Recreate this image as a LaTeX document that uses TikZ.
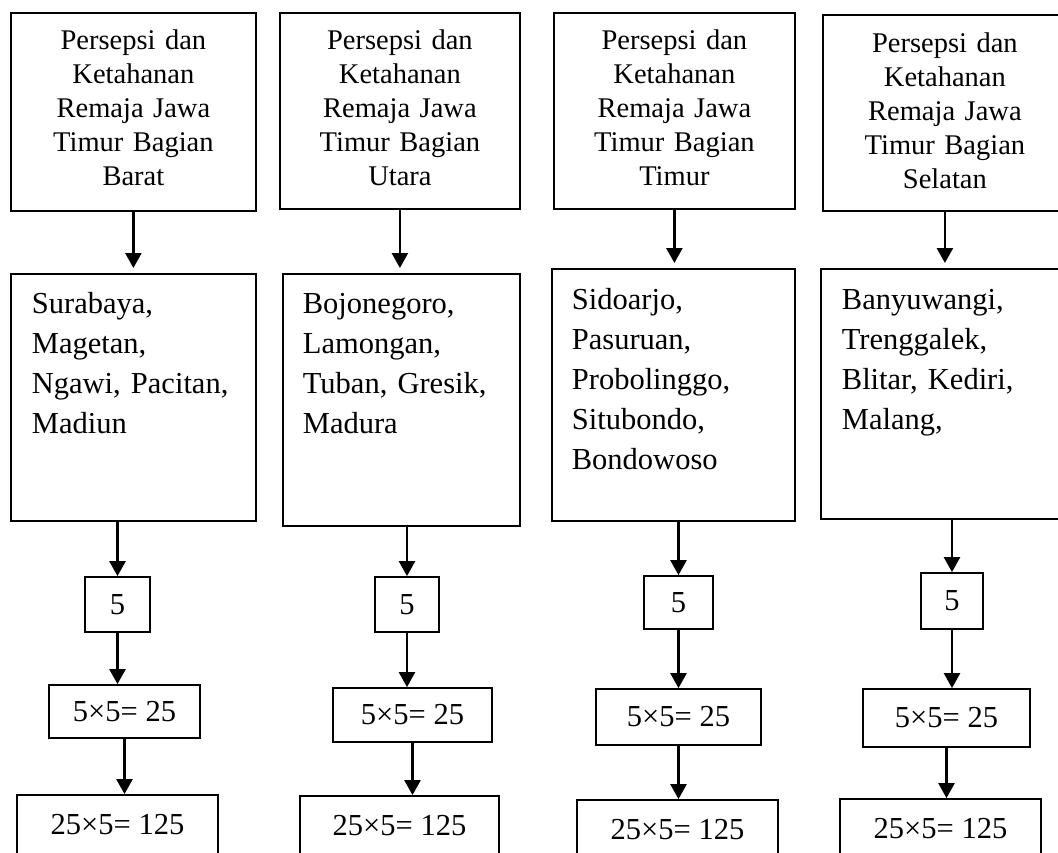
\documentclass[tikz,border=0pt]{standalone}
\usepackage{fontspec}
\setmainfont{Liberation Serif}
\usetikzlibrary{arrows.meta}

\begin{document}
\begin{tikzpicture}[x=1pt,y=-1pt,>={Triangle[length=15pt,width=16pt]},
  flow/.style={->,line width=2.5pt}]
  \tikzstyle{every node}=[draw,line width=1.8pt,inner sep=0pt]
  \tikzstyle{region}=[anchor=north west,align=center,
    font=\fontsize{28.5}{34}\selectfont]
  \tikzstyle{towns}=[anchor=north west,align=left,inner xsep=21pt,
    font=\fontsize{30.5}{40}\selectfont]
  \tikzstyle{calc}=[font=\fontsize{30.5}{36}\selectfont]
  \useasboundingbox (0,0) rectangle (1058,852);

  \node[region,text width=245pt,text height=37pt,text depth=161pt] (barat)   at (10,12)
    {Persepsi dan\\Ketahanan\\Remaja Jawa\\Timur Bagian\\Barat};
  \node[region,text width=240pt,text height=37pt,text depth=159pt] (utara)   at (279,12)
    {Persepsi dan\\Ketahanan\\Remaja Jawa\\Timur Bagian\\Utara};
  \node[region,text width=241pt,text height=37pt,text depth=159pt] (timur)   at (553,12)
    {Persepsi dan\\Ketahanan\\Remaja Jawa\\Timur Bagian\\Timur};
  \node[region,text width=244pt,text height=38pt,text depth=158pt] (selatan) at (822,14)
    {Persepsi dan\\Ketahanan\\Remaja Jawa\\Timur Bagian\\Selatan};

  \node[towns,text width=203pt,text height=40pt,text depth=207pt] (kotaB) at (10,273)
    {Surabaya,\\Magetan,\\Ngawi, Pacitan,\\Madiun};
  \node[towns,inner xsep=20pt,text width=197pt,text height=40pt,text depth=212pt] (kotaU) at (282,273)
    {Bojonegoro,\\Lamongan,\\Tuban, Gresik,\\Madura};
  \node[towns,inner xsep=20pt,text width=203pt,text height=41pt,text depth=211pt] (kotaT) at (551,268)
    {Sidoarjo,\\Pasuruan,\\Probolinggo,\\Situbondo,\\Bondowoso};
  \node[towns,text width=204pt,text height=41pt,text depth=209pt] (kotaS) at (820,268)
    {Banyuwangi,\\Trenggalek,\\Blitar, Kediri,\\Malang,};

  \node[calc,minimum width=65pt,minimum height=55pt]  (limaB)  at (117.5,604.5) {5};
  \node[calc,minimum width=64pt,minimum height=55pt]  (limaU)  at (407,604.5)   {5};
  \node[calc,minimum width=69pt,minimum height=53pt]  (limaT)  at (678.5,602.5) {5};
  \node[calc,minimum width=62pt,minimum height=56pt]  (limaS)  at (952,601)     {5};

  \node[calc,minimum width=151pt,minimum height=53pt] (kaliB)  at (124.5,711.5) {5×5= 25};
  \node[calc,minimum width=159pt,minimum height=54pt] (kaliU)  at (412.5,715)   {5×5= 25};
  \node[calc,minimum width=165pt,minimum height=56pt] (kaliT)  at (678.5,717)   {5×5= 25};
  \node[calc,minimum width=167pt,minimum height=58pt] (kaliS)  at (946.5,718)   {5×5= 25};

  \node[calc,minimum width=201pt,minimum height=60pt] (hasilB) at (117.5,825)   {25×5= 125};
  \node[calc,minimum width=199pt,minimum height=60pt] (hasilU) at (399.5,826)   {25×5= 125};
  \node[calc,minimum width=201pt,minimum height=60pt] (hasilT) at (677.5,830)   {25×5= 125};
  \node[calc,minimum width=201pt,minimum height=60pt] (hasilS) at (940.5,829)   {25×5= 125};

  \path[flow] (barat)   edge[shorten >=5pt] (barat |- kotaB.north)
              (utara)   edge[shorten >=5pt] (utara |- kotaU.north)
              (timur)   edge[shorten >=5pt] (timur |- kotaT.north)
              (selatan) edge[shorten >=5pt] (selatan |- kotaS.north)
              (kotaB.south -| limaB) edge (limaB)
              (kotaU.south -| limaU) edge (limaU)
              (kotaT.south -| limaT) edge (limaT)
              (kotaS.south -| limaS) edge (limaS)
              (limaB) edge (limaB |- kaliB.north)
              (limaU) edge (limaU |- kaliU.north)
              (limaT) edge (limaT |- kaliT.north)
              (limaS) edge (limaS |- kaliS.north)
              (kaliB) edge (kaliB |- hasilB.north)
              (kaliU) edge (kaliU |- hasilU.north)
              (kaliT) edge (kaliT |- hasilT.north)
              (kaliS) edge (kaliS |- hasilS.north);
\end{tikzpicture}
\end{document}
